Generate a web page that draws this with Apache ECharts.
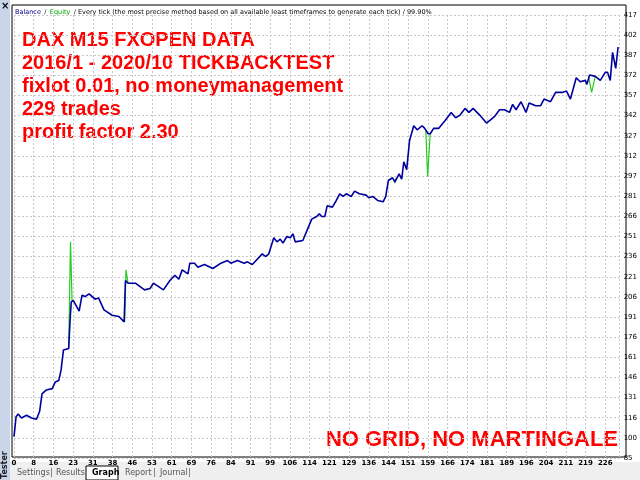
<!DOCTYPE html>
<html><head><meta charset="utf-8">
<script src="https://cdn.jsdelivr.net/npm/echarts@6/dist/echarts.min.js"></script>
<style>html,body{margin:0;padding:0;background:#fff}#c{width:640px;height:480px}</style>
</head><body><div id="c"></div>
<script>
const xTickLabels = ['0','8','16','23','31','38','46','53','61','69','76','84','91','99','106','114','121','129','136','144','151','159','166','174','181','189','196','204','211','219','226'];
const yTickLabels = ['85','100','116','131','146','161','176','191','206','221','236','251','266','281','297','312','327','342','357','372','387','402','417'];
const balanceTrade = [0,0.8,1.6,2.9,4.8,6.7,8.6,9.8,10.7,12.4,14.6,15.8,17.1,18,18.9,20.9,21.5,21.9,22.7,24.9,26,27.2,28.7,31,32.3,34.4,37.5,40.1,42.1,42.6,43.6,46.4,49.9,52,53.3,57.1,59.6,61.5,63,64.3,66.5,67.2,69,70.3,72.8,76,79.1,81.6,82.9,85.4,88,89.2,91.1,94.9,96.1,97.4,99.3,100.5,101.8,102.8,104.3,105.6,106.6,107.5,110.4,111.9,113.8,115.7,116.7,117.6,118.8,119.7,121.7,123.2,124.5,125.8,127,128.9,130.2,132,134.6,135.6,137.1,139,141.1,142.1,143.1,144.7,145.6,147.2,148.2,149,150.1,151.2,152.8,154.1,156,157,158.3,159.1,160.4,162.3,164.8,167.1,168.8,170.5,172.4,173.9,175.5,178,180.6,182.5,183.7,185.6,187.5,189.4,190.6,191.9,193.8,195.7,196.9,199.4,201.3,202.6,205.1,207,209.5,211.2,212.7,214.9,216.4,218.4,219,220,222.2,224.1,226,226.9,227.9,228.8,230,230.9];
const balanceValue = [101,116,118,115,117,115,114,120,133,136,137,142,143,151,166,167,191,202,203,195,207,206,208,204,205,196,192,191,187,218,216,216,211,212,216,211,218,222,219,226,223,231,231,228,230,227,231,233,231,233,231,232,230,238,236,238,250,247,249,246,251,250,253,247,248,255,264,266,268,266,266,274,273,278,283,281,283,281,285,283,282,280,281,278,277,281,293,295,292,298,294,307,301,323,334,331,334,332,328,328,332,332,338,344,340,342,347,344,347,342,336,339,341,346,346,344,350,346,352,344,351,349,349,354,352,359,359,360,354,370,367,368,365,372,371,368,374,374,368,389,377,393];
const equityTrade = [20.9,21.6,22.2,null,42.3,42.8,43.6,null,145.2,145.6,146.2,null,157.4,158.1,159.1,null,219.6,220.8,222.2];
const equityValue = [167,247,202,null,187,226,216,null,294,291,295,null,331,296,328,null,371,359,371];
const titleLines = ['DAX M15 FXOPEN DATA','2016/1 - 2020/10 TICKBACKTEST','fixlot 0.01, no moneymanagement','229 trades','profit factor 2.30'];
const tabNames = ['Settings','Results','Graph','Report','Journal'];

const xStep = 226/30, yStep = 332/22;
const bal = balanceTrade.map((t,i)=>[t,balanceValue[i]]);
const eq = equityTrade.map((t,i)=>t===null?[null,null]:[t,equityValue[i]]);
const chart = echarts.init(document.getElementById('c'));
const tabX = [17,56,92,125,160], sepX = [50,84,119,153,188];
const gfx = [
  {type:'rect',shape:{x:0,y:0,width:640,height:480},style:{fill:'#fff'},z:-10},
  {type:'rect',shape:{x:0,y:462,width:640,height:18},style:{fill:'#efefef'}},
  {type:'rect',shape:{x:0,y:0,width:10,height:480},style:{fill:'#c9d6ea'}},
  {type:'text',x:1,y:1,style:{text:'×',font:'bold 10px "DejaVu Sans"',fill:'#000'}},
  {type:'text',x:1,y:479,rotation:Math.PI/2,style:{text:'Tester',font:'bold 8px "DejaVu Sans"',fill:'#222'}},
  {type:'rect',shape:{x:12,y:5,width:614,height:452},style:{fill:'none',stroke:'#000',lineWidth:1}},
  {type:'rect',shape:{x:86,y:466,width:32,height:14},style:{fill:'#fff',stroke:'#000',lineWidth:1}},
  {type:'text',x:15,y:6,style:{rich:{b:{fill:'#00008b',font:'6.5px "DejaVu Sans"'},g:{fill:'#00a000',font:'6.5px "DejaVu Sans"'},k:{fill:'#000',font:'6.5px "DejaVu Sans"'}},text:'{b|Balance} {k|/} {g|Equity} {k|/ Every tick (the most precise method based on all available least timeframes to generate each tick) / 99.90%}'}},
  {type:'text',right:22,y:429,style:{text:'NO GRID, NO MARTINGALE',font:'bold 22px "Liberation Sans"',fill:'#ff0000'}}
];
tabNames.forEach((s,i)=>{
  gfx.push({type:'text',x:tabX[i],y:469,style:{text:s,font:(i===2?'bold ':'')+'8px "DejaVu Sans"',fill:i===2?'#000':'#555'}});
  if(i!==1 && i!==2) gfx.push({type:'text',x:sepX[i],y:469,style:{text:'|',font:'8px "DejaVu Sans"',fill:'#555'}});
});
titleLines.forEach((s,i)=>gfx.push({type:'text',x:22,y:30+i*23,style:{text:s,font:'bold 20px "Liberation Sans"',fill:'#ff0000'}}));
chart.setOption({
  animation:false,
  grid:{left:14,right:14,top:15,bottom:22},
  xAxis:{type:'value',min:0,max:231.5,interval:xStep,
    axisLine:{show:false},axisTick:{show:false},
    axisLabel:{fontSize:7,color:'#000',fontWeight:'bold',margin:2,fontFamily:'DejaVu Sans',
      formatter:v=>xTickLabels[Math.round(v/xStep)]||''},
    splitLine:{lineStyle:{color:'#c8c8c8',type:[2,2]}}},
  yAxis:{type:'value',position:'right',min:85,max:417,interval:yStep,
    axisLine:{show:false},axisTick:{show:false},
    axisLabel:{fontSize:7,color:'#000',margin:4,fontFamily:'DejaVu Sans',
      formatter:v=>yTickLabels[Math.round((v-85)/yStep)]||''},
    splitLine:{lineStyle:{color:'#c8c8c8',type:[2,2]}}},
  series:[
    {type:'line',data:eq,showSymbol:false,connectNulls:false,lineStyle:{color:'#22cc22',width:1.2},z:2},
    {type:'line',data:bal,showSymbol:false,lineStyle:{color:'#0000a0',width:1.6},z:3}
  ],
  graphic:gfx
});
</script></body></html>
